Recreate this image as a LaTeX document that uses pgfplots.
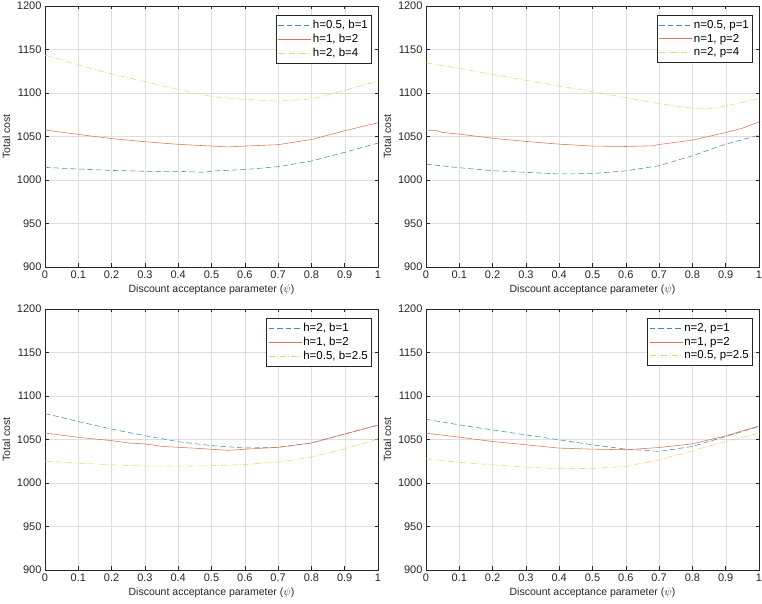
\documentclass[border=0pt]{standalone}
\usepackage{pgfplots}
\pgfplotsset{compat=1.18}
\usepackage{fontspec}
\setmainfont{Liberation Sans}
\definecolor{mblue}{rgb}{0.25,0.55,0.72}
\definecolor{morange}{rgb}{0.86,0.45,0.33}
\definecolor{myellow}{rgb}{0.93,0.82,0.42}
\definecolor{axgray}{rgb}{0.15,0.15,0.15}
\pgfplotsset{
  mstyle/.style={
    scale only axis, width=333pt, height=261pt,
    xmin=0, xmax=1, ymin=900, ymax=1200,
    xtick={0,0.1,0.2,0.3,0.4,0.5,0.6,0.7,0.8,0.9,1},
    xticklabels={0,0.1,0.2,0.3,0.4,0.5,0.6,0.7,0.8,0.9,1},
    ytick={900,950,1000,1050,1100,1150,1200},
    yticklabels={900,950,1000,1050,1100,1150,1200},
    grid=major, major grid style={black!13, line width=0.4pt},
    tick align=inside, xtick pos=both, ytick pos=both,
    major tick length=3.5pt,
    axis line style={axgray, line width=0.5pt},
    tick style={axgray, line width=0.5pt},
    ticklabel style={font=\fontsize{11}{12}\selectfont, text=axgray},
    /pgf/number format/assume math mode=true,
    xlabel={Discount acceptance parameter ($\psi$)},
    ylabel={Total cost},
    label style={font=\fontsize{10.5}{12}\selectfont, text=axgray},
    legend style={at={(rel axis cs:0.980,0.965)}, anchor=north east,
      draw=axgray, line width=0.5pt, font=\fontsize{11.5}{12}\selectfont,
      text=black, inner xsep=2pt, inner ysep=4pt, row sep=1.5pt,
      nodes={inner sep=1.2pt}},
    legend cell align=left,
    legend image code/.code={\draw[##1] (0pt,0pt) -- (33pt,0pt);},
  },
  sblue/.style={mblue, line width=0.55pt, dash pattern=on 5.5pt off 3pt},
  sred/.style={morange, line width=0.55pt},
  syel/.style={myellow, line width=0.55pt, dash pattern=on 6pt off 2pt on 1pt off 2pt},
}
\begin{document}
\begin{tikzpicture}
\useasboundingbox (0,0) rectangle (762pt,604pt);
% top-left
\begin{axis}[mstyle, at={(45pt,337pt)}, anchor=south west]
\addplot[sblue] coordinates {(0,1014.5)(0.1,1012.6)(0.2,1011)(0.3,1010)(0.4,1010)(0.48,1008.8)(0.5,1010.3)(0.6,1012)(0.7,1015.3)(0.8,1021.8)(0.9,1031.8)(1,1042.5)};
\addlegendentry{h=0.5, b=1}
\addplot[sred] coordinates {(0,1057.4)(0.1,1052.4)(0.2,1047.6)(0.3,1044)(0.4,1041)(0.5,1039)(0.55,1038)(0.6,1039)(0.7,1040.6)(0.8,1046.5)(0.9,1056.6)(1,1065.8)};
\addlegendentry{h=1, b=2}
\addplot[syel] coordinates {(0,1143.5)(0.1,1132)(0.2,1122)(0.3,1113)(0.4,1104)(0.5,1096)(0.6,1092.6)(0.7,1090.7)(0.8,1093)(0.9,1103)(1,1113.6)};
\addlegendentry{h=2, b=4}
\end{axis}
% top-right
\begin{axis}[mstyle, at={(426pt,337pt)}, anchor=south west]
\addplot[sblue] coordinates {(0,1018.3)(0.1,1014.1)(0.2,1010.7)(0.3,1008.8)(0.4,1006.9)(0.5,1007.4)(0.6,1010.5)(0.7,1016.4)(0.8,1027.9)(0.9,1041.2)(1,1051.5)};
\addlegendentry{n=0.5, p=1}
\addplot[sred] coordinates {(0,1057.3)(0.03,1057)(0.05,1054.6)(0.1,1052.7)(0.2,1048)(0.3,1044.3)(0.4,1041.2)(0.5,1039)(0.6,1038.5)(0.68,1039.3)(0.7,1040.8)(0.8,1045.8)(0.9,1054.6)(0.95,1059.5)(1,1066.8)};
\addlegendentry{n=1, p=2}
\addplot[syel] coordinates {(0,1134.7)(0.1,1128.2)(0.2,1121.4)(0.3,1114.5)(0.4,1108)(0.5,1101.5)(0.6,1094.7)(0.7,1087.8)(0.8,1082.4)(0.84,1081.3)(0.9,1085)(1,1093.5)};
\addlegendentry{n=2, p=4}
\end{axis}
% bottom-left
\begin{axis}[mstyle, at={(45pt,34pt)}, anchor=south west]
\addplot[sblue] coordinates {(0,1079.8)(0.1,1070.7)(0.2,1062)(0.3,1054.4)(0.4,1047.5)(0.5,1043)(0.6,1040.2)(0.7,1041)(0.8,1046)(0.9,1056.3)(1,1066.5)};
\addlegendentry{h=2, b=1}
\addplot[sred] coordinates {(0,1057.4)(0.1,1052.5)(0.2,1048.7)(0.25,1046)(0.3,1044.9)(0.35,1042.2)(0.4,1041)(0.45,1040)(0.5,1038.8)(0.55,1037.6)(0.6,1038.8)(0.7,1041)(0.8,1046)(0.9,1056.3)(1,1066.5)};
\addlegendentry{h=1, b=2}
\addplot[syel] coordinates {(0,1025)(0.1,1022.8)(0.2,1021)(0.3,1019.4)(0.4,1019.4)(0.5,1019.8)(0.6,1021.3)(0.7,1024)(0.8,1029.7)(0.9,1039.2)(1,1050.6)};
\addlegendentry{h=0.5, b=2.5}
\end{axis}
% bottom-right
\begin{axis}[mstyle, at={(426pt,34pt)}, anchor=south west]
\addplot[sblue] coordinates {(0,1073.3)(0.1,1066.8)(0.2,1061)(0.3,1055.3)(0.4,1049.6)(0.5,1043.9)(0.6,1038.9)(0.7,1036.3)(0.8,1042)(0.9,1053.4)(1,1065)};
\addlegendentry{n=2, p=1}
\addplot[sred] coordinates {(0,1057.3)(0.1,1052.7)(0.2,1047.7)(0.3,1043.9)(0.4,1040.1)(0.5,1038.9)(0.6,1038.2)(0.7,1040.8)(0.8,1045)(0.9,1054.2)(1,1065.6)};
\addlegendentry{n=1, p=2}
\addplot[syel] coordinates {(0,1027.9)(0.1,1023.7)(0.2,1021)(0.3,1018.3)(0.4,1016.4)(0.5,1016.8)(0.6,1019.1)(0.7,1026.7)(0.8,1037)(0.9,1047.7)(1,1057.3)};
\addlegendentry{n=0.5, p=2.5}
\end{axis}
\end{tikzpicture}
\end{document}
